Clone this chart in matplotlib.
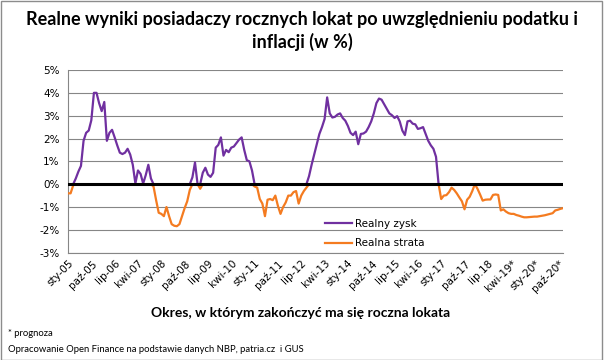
import matplotlib.pyplot as plt
import numpy as np

# realny wynik lokaty rocznej (%), miesiecznie sty-05 ... gru-20
realny_wynik = [
    -0.4, -0.4, -0.05, 0.25, 0.55, 0.8, 1.9, 2.25, 2.35, 2.8, 4.0, 4.0,          # 2005
    3.55, 3.2, 3.6, 1.9, 2.25, 2.38, 2.05, 1.7, 1.38, 1.32, 1.38, 1.55,          # 2006
    1.3, 0.85, 0.03, 0.6, 0.45, 0.03, 0.4, 0.85, 0.25, -0.1, -0.7, -1.25,        # 2007
    -1.3, -1.4, -1.0, -1.4, -1.75, -1.82, -1.84, -1.75, -1.4, -1.05, -0.75, -0.25,  # 2008
    0.3, 0.95, 0.0, -0.2, 0.5, 0.72, 0.42, 0.32, 0.5, 1.6, 1.72, 2.05,           # 2009
    1.25, 1.5, 1.4, 1.6, 1.65, 1.8, 1.95, 2.05, 1.5, 1.05, 1.0, 0.6,             # 2010
    -0.1, -0.15, -0.65, -0.85, -1.4, -0.68, -0.65, -0.7, -0.5, -0.95, -1.3, -1.0,   # 2011
    -0.8, -0.5, -0.5, -0.35, -0.3, -0.85, -0.5, -0.3, -0.15, 0.35, 0.85, 1.3,    # 2012
    1.75, 2.2, 2.5, 2.85, 3.8, 3.1, 2.92, 2.95, 3.05, 3.1, 2.9, 2.78,            # 2013
    2.55, 2.25, 2.15, 2.3, 1.75, 2.2, 2.22, 2.3, 2.5, 2.75, 3.1, 3.55,           # 2014
    3.75, 3.7, 3.5, 3.3, 3.1, 3.02, 2.9, 2.98, 2.75, 2.35, 2.15, 2.75,           # 2015
    2.78, 2.65, 2.62, 2.42, 2.45, 2.5, 2.2, 1.9, 1.7, 1.55, 1.2, 0.0,            # 2016
    -0.65, -0.5, -0.48, -0.35, -0.15, -0.25, -0.4, -0.58, -0.75, -1.1, -0.68, -0.55,  # 2017
    -0.3, 0.0, -0.2, -0.45, -0.72, -0.68, -0.67, -0.67, -0.47, -0.45, -0.47, -1.15,   # 2018
    -1.1, -1.2, -1.27, -1.3, -1.3, -1.35, -1.38, -1.42, -1.45, -1.45, -1.44, -1.43,   # 2019
    -1.42, -1.42, -1.4, -1.38, -1.36, -1.33, -1.3, -1.27, -1.15, -1.12, -1.08, -1.05,  # 2020
]

tick_labels = ['sty-05', 'paź-05', 'lip-06', 'kwi-07', 'sty-08', 'paź-08', 'lip-09',
               'kwi-10', 'sty-11', 'paź-11', 'lip-12', 'kwi-13', 'sty-14', 'paź-14',
               'lip-15', 'kwi-16', 'sty-17', 'paź-17', 'lip.18', 'kwi-19*', 'sty-20*',
               'paź-20*']
tick_step = 9

y_ticks = [-3, -2, -1, 0, 1, 2, 3, 4, 5]

v = np.array(realny_wynik)
x = np.arange(len(v))
zysk = np.maximum(v, 0)
strata = np.minimum(v, 0)

fig = plt.figure(figsize=(6.05, 3.6), dpi=100)
ax = fig.add_axes([68 / 605, 107.3 / 360, 495 / 605, 182.7 / 360])

ax.plot(x, zysk, color='#7030A0', lw=1.6, label='Realny zysk', zorder=3)
ax.plot(x, strata, color='#F47B20', lw=1.6, label='Realna strata', zorder=3)
ax.axhline(0, color='black', lw=2.2, zorder=4)

ax.set_xlim(0, len(v) - 1)
ax.set_ylim(-3, 5)
ax.set_yticks(y_ticks)
ax.set_yticklabels([f'{t}%' for t in y_ticks], fontsize=7.5)
ax.set_xticks(np.arange(len(tick_labels)) * tick_step)
ax.set_xticklabels(tick_labels, rotation=45, ha='right', rotation_mode='anchor', fontsize=7.5)
ax.tick_params(length=0, pad=6)
ax.tick_params(axis='x', pad=4)

ax.grid(axis='y', color='#868686', lw=0.8)
ax.set_axisbelow(True)
for s in ['top', 'right']:
    ax.spines[s].set_visible(False)
for s in ['left', 'bottom']:
    ax.spines[s].set_color('#868686')
    ax.spines[s].set_linewidth(0.8)

ax.legend(loc='center left', bbox_to_anchor=(0.51, 0.105), frameon=False, fontsize=7.5,
          handlelength=2.6, handletextpad=0.3, labelspacing=0.95, borderaxespad=0)

fig.text(0.5, 1 - 31 / 360, 'Realne wyniki posiadaczy rocznych lokat po uwzględnieniu podatku i\ninflacji (w %)',
         ha='center', va='center', fontsize=13, fontweight='bold', family='Lato', linespacing=1.35)
fig.text(0.497, 1 - 313 / 360, 'Okres, w którym zakończyć ma się roczna lokata',
         ha='center', va='center', fontsize=10, fontweight='bold', family='Lato')
fig.text(8 / 605, 1 - 333 / 360, '* prognoza', ha='left', va='center', fontsize=6.8, family='Lato')
fig.text(8 / 605, 1 - 350 / 360, 'Opracowanie Open Finance na podstawie danych NBP, patria.cz  i GUS',
         ha='left', va='center', fontsize=6.8, family='Lato')

fig.add_artist(plt.Rectangle((0.5 / 605, 0.5 / 360), 601 / 605, 358.5 / 360, transform=fig.transFigure,
                             fill=False, ec='#8c8c8c', lw=1))

plt.savefig('out.png', dpi=100)
